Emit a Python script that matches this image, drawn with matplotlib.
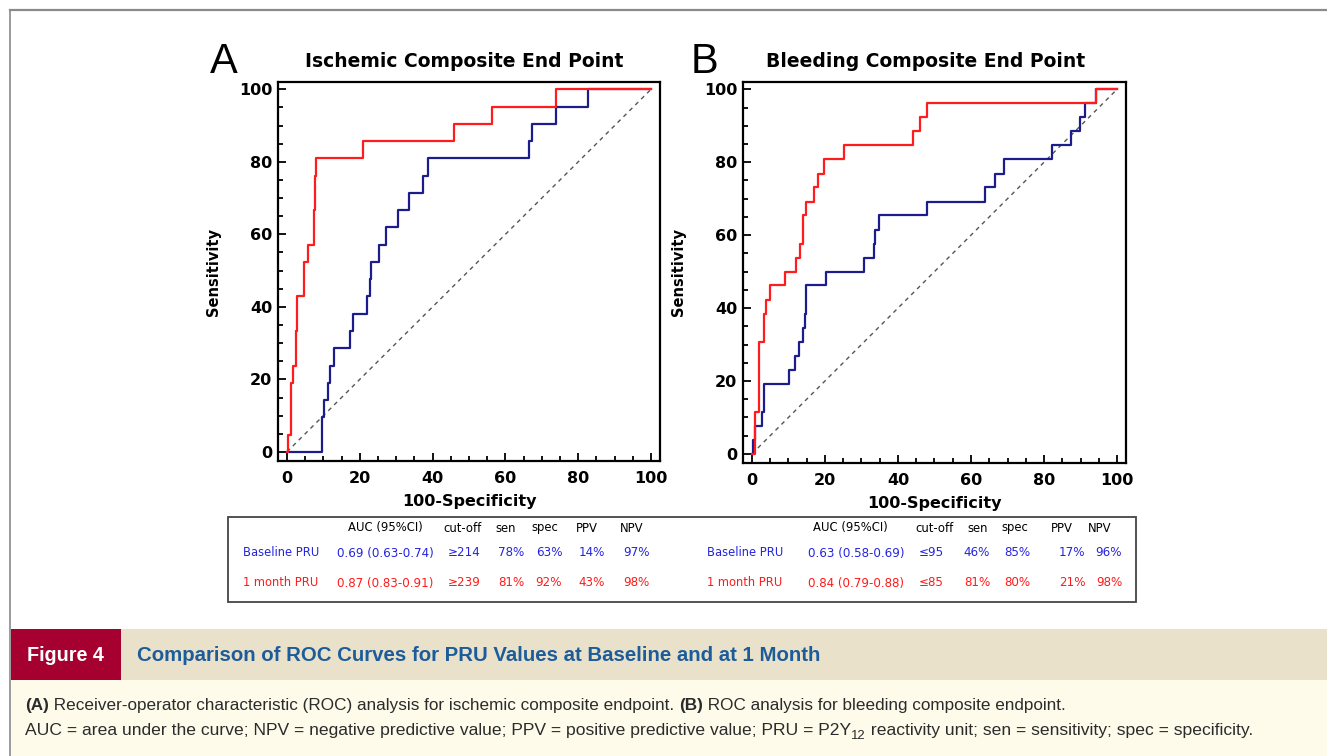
import matplotlib
matplotlib.use("Agg")
import matplotlib.pyplot as plt
from matplotlib.patches import Rectangle
from matplotlib.lines import Line2D
from matplotlib.ticker import MultipleLocator

# ---------------- data ----------------
# Panel A: ischemic composite end point (x = 100-specificity, y = sensitivity)
a_base_x = [0, 9.6, 10.1, 11.3, 11.7, 12.8, 17.2, 18.1, 22.0, 22.7, 23.1, 25.4, 27.3,
            30.4, 33.4, 37.5, 38.7, 66.4, 67.3, 74.0, 82.6, 100]
a_base_y = [0, 9.5, 14.3, 19.0, 23.8, 28.6, 33.3, 38.1, 42.9, 47.6, 52.4, 57.1, 61.9,
            66.7, 71.4, 76.2, 81.0, 85.7, 90.5, 95.2, 100, 100]
a_month_x = [0, 0.2, 1.1, 1.6, 2.5, 2.9, 4.6, 5.7, 7.5, 7.8, 8.1, 20.9, 45.8, 56.3, 74.0, 100]
a_month_y = [0, 4.8, 19.0, 23.8, 33.3, 42.9, 52.4, 57.1, 66.7, 76.2, 81.0, 85.7, 90.5,
             95.2, 100, 100]

# Panel B: bleeding composite end point
b_base_x = [0, 0.2, 0.9, 2.7, 3.2, 10.2, 11.7, 12.8, 13.9, 14.6, 14.9, 20.2, 30.8, 33.3,
            33.7, 34.9, 47.9, 63.8, 66.7, 69.1, 82.2, 87.3, 89.8, 91.3, 94.3, 100]
b_base_y = [0, 3.8, 7.7, 11.5, 19.2, 23.1, 26.9, 30.8, 34.6, 38.5, 46.2, 50.0, 53.8, 57.7,
            61.5, 65.4, 69.2, 73.1, 76.9, 80.8, 84.6, 88.5, 92.3, 96.2, 100, 100]
b_month_x = [0, 0.7, 1.8, 3.2, 3.9, 5.0, 9.1, 12.0, 13.2, 14.1, 14.9, 16.9, 18.0, 19.6,
             25.1, 44.2, 46.0, 47.9, 94.3, 100]
b_month_y = [0, 11.5, 30.8, 38.5, 42.3, 46.2, 50.0, 53.8, 57.7, 65.4, 69.2, 73.1, 76.9,
             80.8, 84.6, 88.5, 92.3, 96.2, 100, 100]

panel_letters = ["A", "B"]
panel_titles = ["Ischemic Composite End Point", "Bleeding Composite End Point"]
x_label = "100-Specificity"
y_label = "Sensitivity"
tick_values = [0, 20, 40, 60, 80, 100]

table_cols = ["AUC (95%CI)", "cut-off", "sen", "spec", "PPV", "NPV"]
row_names = ["Baseline PRU", "1 month PRU"]
a_stats = [["0.69 (0.63-0.74)", "\u2265214", "78%", "63%", "14%", "97%"],
           ["0.87 (0.83-0.91)", "\u2265239", "81%", "92%", "43%", "98%"]]
b_stats = [["0.63 (0.58-0.69)", "\u226495", "46%", "85%", "17%", "96%"],
           ["0.84 (0.79-0.88)", "\u226485", "81%", "80%", "21%", "98%"]]

fig_label = "Figure 4"
fig_title = "Comparison of ROC Curves for PRU Values at Baseline and at 1 Month"

# ---------------- styling ----------------
W, H = 1327, 756
BLUE_LINE = "#1c1c8c"
RED_LINE = "#ff1c1c"
BLUE_TXT = "#2424e0"
RED_TXT = "#ff1a1a"

fig = plt.figure(figsize=(W / 100, H / 100), dpi=100)
fig.patch.set_facecolor("white")


def fx(px):
    return px / W


def fy(py):
    return 1 - py / H


def make_axes(left, top, right, bottom):
    ax = fig.add_axes([fx(left), fy(bottom), (right - left) / W, (bottom - top) / H])
    ax.set_xlim(-2.45, 102.45)
    ax.set_ylim(-2.5, 102.0)
    for s in ax.spines.values():
        s.set_linewidth(1.6)
        s.set_color("black")
    ax.xaxis.set_major_locator(MultipleLocator(20))
    ax.yaxis.set_major_locator(MultipleLocator(20))
    ax.xaxis.set_minor_locator(MultipleLocator(5))
    ax.yaxis.set_minor_locator(MultipleLocator(5))
    ax.tick_params(which="both", direction="in", top=False, right=False, width=1.3,
                   colors="black")
    ax.tick_params(which="major", length=5.5)
    ax.tick_params(which="minor", length=3.5)
    ax.tick_params(axis="x", which="major", pad=7)
    ax.tick_params(axis="y", which="major", pad=4)
    ax.set_xticks(tick_values)
    ax.set_yticks(tick_values)
    for lab in ax.get_xticklabels() + ax.get_yticklabels():
        lab.set_fontfamily("DejaVu Sans")
        lab.set_fontweight("bold")
        lab.set_fontsize(11.5)
    return ax


ax_a = make_axes(278, 82, 660, 461)
ax_b = make_axes(743, 82, 1126, 463)

panels = [
    (ax_a, a_base_x, a_base_y, a_month_x, a_month_y),
    (ax_b, b_base_x, b_base_y, b_month_x, b_month_y),
]
for ax, bx, by, mx, my in panels:
    ax.plot([0, 100], [0, 100], color="#555555", lw=1.0, dashes=(3, 3), zorder=1)
    ax.plot(bx, by, drawstyle="steps-post", color=BLUE_LINE, lw=1.6, zorder=2)
    ax.plot(mx, my, drawstyle="steps-post", color=RED_LINE, lw=1.6, zorder=3)
    ax.set_xlabel(x_label, fontsize=11.5, fontweight="bold", family="DejaVu Sans",
                  labelpad=6)
    ax.set_ylabel(y_label, fontsize=10.5, fontweight="bold", family="DejaVu Sans",
                  labelpad=13)

# titles and panel letters
title_pos = [(464, 67), (926, 67)]
letter_pos = [(210, 73), (691, 73)]
for i in range(2):
    fig.text(fx(title_pos[i][0]), fy(title_pos[i][1]), panel_titles[i], ha="center",
             va="baseline", fontsize=13.5, fontweight="bold", family="DejaVu Sans")
    fig.text(fx(letter_pos[i][0]), fy(letter_pos[i][1]), panel_letters[i], ha="left",
             va="baseline", fontsize=30, family="Liberation Sans")

# ---------------- statistics table ----------------
fig.add_artist(Rectangle((fx(228), fy(602)), (1136 - 228) / W, (602 - 517) / H,
                         transform=fig.transFigure, fill=False, edgecolor="#444444",
                         lw=1.3))
row_y = [553, 583]
header_y = 528
tables = [
    (a_stats, 243, [385, 462, 506, 545, 587, 632], [385, 464, 511, 549, 592, 636]),
    (b_stats, 707, [850, 934, 978, 1015, 1062, 1100], [856, 931, 977, 1017, 1072, 1109]),
]
row_colors = [BLUE_TXT, RED_TXT]
TFS = 8.6
for stats, name_x, head_xs, val_xs in tables:
    for c, hx in zip(table_cols, head_xs):
        fig.text(fx(hx), fy(header_y), c, ha="center", va="center", fontsize=TFS - 0.2,
                 family="DejaVu Sans", color="black")
    for r in range(2):
        fig.text(fx(name_x), fy(row_y[r]), row_names[r], ha="left", va="center",
                 fontsize=TFS - 0.3, family="DejaVu Sans", color=row_colors[r])
        for v, vx in zip(stats[r], val_xs):
            fig.text(fx(vx), fy(row_y[r]), v, ha="center", va="center", fontsize=TFS,
                     family="DejaVu Sans", color=row_colors[r])

# ---------------- caption ----------------
fig.add_artist(Rectangle((fx(10.5), fy(680)), (120.5 - 10.5) / W, 51 / H,
                         transform=fig.transFigure, color="#a5002f", lw=0))
fig.add_artist(Rectangle((fx(120.5), fy(680)), (W - 120.5) / W, 51 / H,
                         transform=fig.transFigure, color="#e9e1c9", lw=0))
fig.add_artist(Rectangle((fx(10.5), 0), (W - 10.5) / W, 76 / H,
                         transform=fig.transFigure, color="#fefbeb", lw=0))
fig.add_artist(Line2D([fx(10), 1], [fy(10), fy(10)], transform=fig.transFigure,
                      color="#8a8a8a", lw=1.6))
fig.add_artist(Line2D([fx(10), fx(10)], [fy(10), 0], transform=fig.transFigure,
                      color="#8a8a8a", lw=1.2))

fig.text(fx(27), fy(661), fig_label, ha="left", va="baseline", fontsize=14.2,
         fontweight="bold", family="Liberation Sans", color="white")
fig.text(fx(137), fy(661), fig_title, ha="left", va="baseline", fontsize=14.7,
         fontweight="bold", family="Liberation Sans", color="#1d5c9b")

renderer = fig.canvas.get_renderer()


def pieces(x_px, y_px, parts, size=12.3, color="#2b2b2b"):
    x = fx(x_px)
    for txt, weight, sub in parts:
        fs = size * 0.75 if sub else size
        yy = fy(y_px + (4 if sub else 0))
        t = fig.text(x, yy, txt, ha="left", va="baseline", fontsize=fs,
                     fontweight=weight, family="Liberation Sans", color=color)
        bb = t.get_window_extent(renderer=renderer)
        x += bb.width / W


pieces(25, 710, [("(A)", "bold", False),
                 (" Receiver-operator characteristic (ROC) analysis for ischemic composite endpoint. ",
                  "normal", False),
                 ("(B)", "bold", False),
                 (" ROC analysis for bleeding composite endpoint.", "normal", False)])
pieces(25, 735, [("AUC = area under the curve; NPV = negative predictive value; "
                  "PPV = positive predictive value; PRU = P2Y", "normal", False),
                 ("12", "normal", True),
                 (" reactivity unit; sen = sensitivity; spec = specificity.", "normal", False)],
       size=12.6)

fig.savefig("out.png", dpi=100, facecolor=fig.get_facecolor())
